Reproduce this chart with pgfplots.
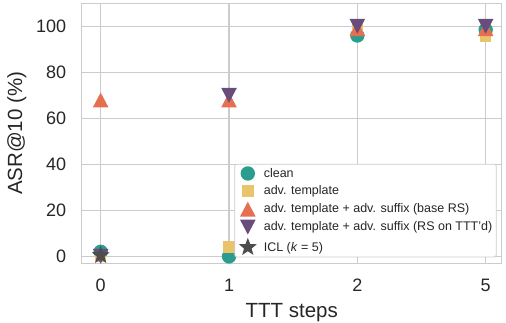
\documentclass[border=0pt]{standalone}
\usepackage{pgfplots}
\pgfplotsset{compat=1.18}
\usepackage{fontspec}
\setmainfont{Liberation Sans}
\definecolor{cteal}{HTML}{2A9D8F}
\definecolor{cyel}{HTML}{E9C46A}
\definecolor{corg}{HTML}{E76F51}
\definecolor{cpur}{HTML}{6A4C7C}
\definecolor{cstar}{HTML}{4D4D4D}
\definecolor{cgrid}{HTML}{CCCCCC}
\definecolor{ctxt}{HTML}{262626}
\pgfdeclareplotmark{fstar}{%
  \pgfpathmoveto{\pgfqpointpolar{90}{\pgfplotmarksize}}%
  \pgfpathlineto{\pgfqpointpolar{126}{0.42\pgfplotmarksize}}%
  \pgfpathlineto{\pgfqpointpolar{162}{\pgfplotmarksize}}%
  \pgfpathlineto{\pgfqpointpolar{198}{0.42\pgfplotmarksize}}%
  \pgfpathlineto{\pgfqpointpolar{234}{\pgfplotmarksize}}%
  \pgfpathlineto{\pgfqpointpolar{270}{0.42\pgfplotmarksize}}%
  \pgfpathlineto{\pgfqpointpolar{306}{\pgfplotmarksize}}%
  \pgfpathlineto{\pgfqpointpolar{342}{0.42\pgfplotmarksize}}%
  \pgfpathlineto{\pgfqpointpolar{18}{\pgfplotmarksize}}%
  \pgfpathlineto{\pgfqpointpolar{54}{0.42\pgfplotmarksize}}%
  \pgfpathclose
  \pgfusepathqfill}
\pgfdeclareplotmark{tri}{%
  \pgfpathmoveto{\pgfqpoint{0pt}{\pgfplotmarksize}}%
  \pgfpathlineto{\pgfqpoint{-\pgfplotmarksize}{-\pgfplotmarksize}}%
  \pgfpathlineto{\pgfqpoint{\pgfplotmarksize}{-\pgfplotmarksize}}%
  \pgfpathclose
  \pgfusepathqfill}
\pgfdeclareplotmark{dtri}{%
  \pgfpathmoveto{\pgfqpoint{0pt}{-\pgfplotmarksize}}%
  \pgfpathlineto{\pgfqpoint{-\pgfplotmarksize}{\pgfplotmarksize}}%
  \pgfpathlineto{\pgfqpoint{\pgfplotmarksize}{\pgfplotmarksize}}%
  \pgfpathclose
  \pgfusepathqfill}
\pgfdeclareplotmark{fcirc}{%
  \pgfpathcircle{\pgfpointorigin}{\pgfplotmarksize}%
  \pgfusepathqfill}
\pgfdeclareplotmark{fsq}{%
  \pgfpathrectangle{\pgfqpoint{-\pgfplotmarksize}{-\pgfplotmarksize}}{\pgfqpoint{2\pgfplotmarksize}{2\pgfplotmarksize}}%
  \pgfusepathqfill}
\begin{document}
\begin{tikzpicture}
\begin{axis}[
  name=ax,
  scale only axis,
  width=420pt, height=260pt,
  xmin=-0.148, xmax=3.125,
  ymin=-3, ymax=110,
  xtick={0,1,2,3}, xticklabels={0,1,2,5},
  ytick={0,20,40,60,80,100},
  xmajorgrids=false, ymajorgrids,
  major grid style={draw=cgrid, line width=1.2pt},
  axis line style={draw=cgrid, line width=1.2pt},
  tick style={draw=none},
  major tick length=0pt,
  tick label style={font=\fontsize{18}{20}\selectfont, text=ctxt},
  /pgf/number format/assume math mode=true,
  xlabel={TTT steps}, ylabel={ASR@10 (\%)},
  label style={font=\fontsize{20.5}{22}\selectfont, text=ctxt},
  xlabel style={yshift=-5pt},
  ylabel style={yshift=3pt},
  xticklabel style={yshift=-12pt},
  yticklabel style={xshift=-12pt},
  only marks,
  legend style={at={(0.988,0.023)}, anchor=south east, draw=cgrid, line width=0.8pt,
    fill=white, rounded corners=2pt,
    font=\fontsize{12.5}{14}\selectfont, text=ctxt, row sep=3.2pt, inner sep=2pt},
  legend cell align=left,
  legend image code/.code={%
    \path[draw=none, fill=none] (-2pt,-6pt) rectangle (23pt,6pt);
    \draw[#1] plot coordinates {(9pt,0pt)};},
]
\draw[cgrid, line width=1.2pt] (axis cs:0,-3) -- (axis cs:0,110);
\fill[cgrid] ([xshift=-0.6pt]axis cs:1,-3) rectangle ([xshift=0.6pt]axis cs:1,110);
\draw[cgrid, line width=1.2pt] (axis cs:2,-3) -- (axis cs:2,110);
\draw[cgrid, line width=1.2pt] (axis cs:3,-3) -- (axis cs:3,110);
\addplot[color=cteal, mark=fcirc, mark size=7.2pt] coordinates {(0,2) (1,0) (2,96) (3,98.5)};
\addlegendentry{clean}
\addplot[color=cyel, mark=fsq, mark size=5.8pt] coordinates {(0,0) (1,4) (2,99) (3,95.5)};
\addlegendentry{adv. template}
\addplot[color=corg, mark=tri, mark size=7.8pt, mark options={yscale=0.95}] coordinates {(0,68) (1,68) (2,99) (3,99)};
\addlegendentry{adv. template + adv. suffix (base RS)}
\addplot[color=cpur, mark=dtri, mark size=7.8pt, mark options={yscale=0.95}] coordinates {(0,0) (1,70) (2,100) (3,100)};
\addlegendentry{adv. template + adv. suffix (RS on TTT'd)}
\addplot[color=cstar, mark=fstar, mark size=9.5pt] coordinates {(0,0.5)};
\addlegendentry{ICL (\textit{k} = 5)}
\end{axis}
\pgfresetboundingbox
\useasboundingbox ([xshift=-81.7pt,yshift=-58.7pt]ax.south west) rectangle ([xshift=4.3pt,yshift=3.3pt]ax.north east);
\end{tikzpicture}
\end{document}
